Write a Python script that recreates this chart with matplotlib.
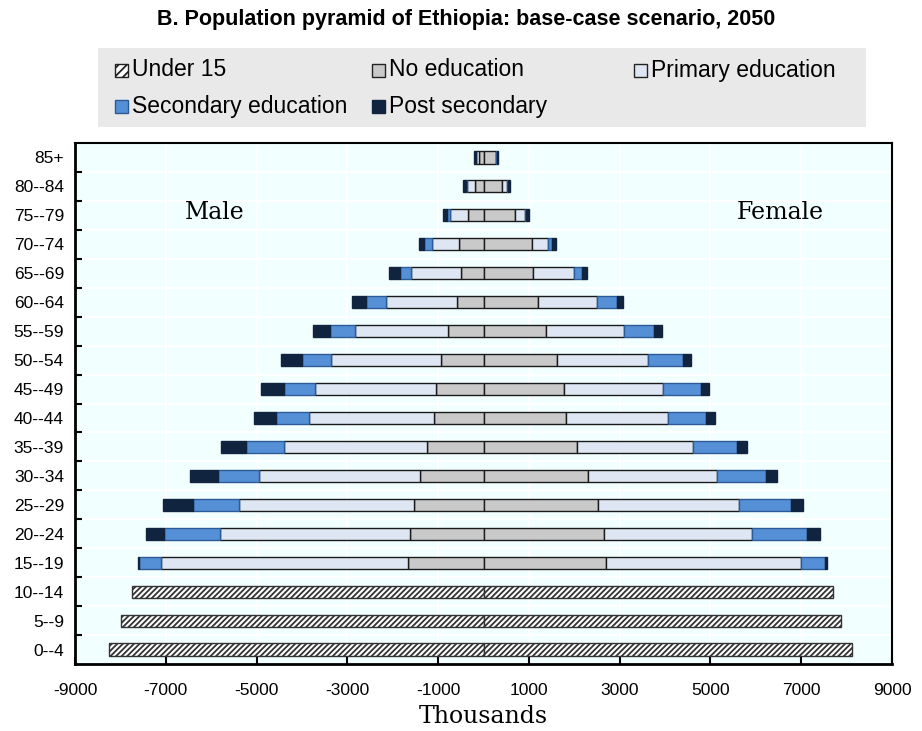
import numpy as np
import matplotlib
matplotlib.use("Agg")
import matplotlib.pyplot as plt
from matplotlib.patches import Rectangle

# age groups, bottom to top
ages = ['0--4', '5--9', '10--14', '15--19', '20--24', '25--29', '30--34', '35--39',
        '40--44', '45--49', '50--54', '55--59', '60--64', '65--69', '70--74',
        '75--79', '80--84', '85+']

# under 15 (thousands)
male_under15 = [8240, 7980, 7740]
female_under15 = [8120, 7880, 7700]

# 15-19 .. 85+ (thousands)
male_noedu = [1654, 1617, 1522, 1397, 1236, 1089, 1045, 935, 788, 590, 495, 532, 352, 183, 100]
male_primary = [5441, 4195, 3872, 3542, 3168, 2765, 2662, 2427, 2053, 1562, 1100, 609, 385, 183, 55]
male_secondary = [484, 1217, 1005, 917, 821, 719, 697, 638, 535, 433, 242, 161, 73, 15, 15]
male_post = [37, 403, 660, 616, 550, 491, 491, 455, 381, 315, 242, 110, 75, 60, 30]

female_noedu = [2699, 2655, 2515, 2310, 2068, 1819, 1775, 1613, 1379, 1195, 1100, 1063, 697, 418, 270]
female_primary = [4305, 3263, 3109, 2845, 2552, 2251, 2171, 2017, 1723, 1298, 895, 367, 220, 95, 10]
female_secondary = [528, 1217, 1159, 1078, 968, 843, 836, 755, 660, 440, 183, 73, 20, 20, 10]
female_post = [44, 271, 257, 242, 220, 183, 183, 183, 161, 147, 95, 88, 65, 40, 30]

labels = ['Under 15', 'No education', 'Primary education', 'Secondary education', 'Post secondary']
colors = ['white', '#c9c9c9', '#dde6f2', '#5590d6', '#10243f']
edges = ['#333333', '#1a1a1a', '#1a1a1a', '#2c5a94', '#10243f']

plt.rcParams['font.family'] = ['Liberation Sans', 'DejaVu Sans']
plt.rcParams['hatch.linewidth'] = 1.3

fig = plt.figure(figsize=(9.22, 7.31), dpi=100)
ax = fig.add_axes([75 / 922, 1 - 664 / 731, (892 - 75) / 922, (664 - 143) / 731])
ax.set_facecolor('#f2ffff')

h = 0.42
y_young = np.arange(3)
y_adult = np.arange(3, len(ages))

ax.barh(y_young, -np.array(male_under15), height=h, color=colors[0], edgecolor=edges[0],
        hatch='//////', linewidth=1, zorder=3)
ax.barh(y_young, female_under15, height=h, color=colors[0], edgecolor=edges[0],
        hatch='//////', linewidth=1, zorder=3)

male_parts = [male_noedu, male_primary, male_secondary, male_post]
female_parts = [female_noedu, female_primary, female_secondary, female_post]
left_m = np.zeros(len(y_adult))
left_f = np.zeros(len(y_adult))
for i in range(4):
    m = np.array(male_parts[i])
    f = np.array(female_parts[i])
    ax.barh(y_adult, -m, left=-left_m, height=h, color=colors[i + 1], edgecolor=edges[i + 1],
            linewidth=1, zorder=3)
    ax.barh(y_adult, f, left=left_f, height=h, color=colors[i + 1], edgecolor=edges[i + 1],
            linewidth=1, zorder=3)
    left_m += m
    left_f += f

ax.set_xlim(-9000, 9000)
ax.set_ylim(-0.5, len(ages) - 0.5)
ax.set_xticks(np.arange(-9000, 9001, 2000))
ax.set_xticklabels([str(v) for v in range(-9000, 9001, 2000)], fontsize=12.5)
ax.set_yticks(np.arange(len(ages)))
ax.set_yticklabels(ages, fontsize=12.5)
ax.set_yticks(np.arange(0.5, len(ages) - 0.5), minor=True)
ax.tick_params(axis='y', which='major', length=0, pad=8)
ax.tick_params(axis='y', which='minor', length=5, width=1.5, direction='in', color='black')
ax.tick_params(axis='x', which='major', length=5, width=1.5, direction='in', pad=14)
ax.grid(axis='x', which='major', color='white', linewidth=1.5, zorder=0)
ax.grid(axis='y', which='minor', color='white', linewidth=1.5, zorder=0)
for side in ['left', 'bottom']:
    ax.spines[side].set_linewidth(2)
for side in ['top', 'right']:
    ax.spines[side].set_linewidth(1.5)

ax.set_xlabel('Thousands', family='DejaVu Serif', fontsize=17, labelpad=5)
ax.text(-5920, 15.1, 'Male', family='DejaVu Serif', fontsize=17, ha='center', va='center')
ax.text(6540, 15.1, 'Female', family='DejaVu Serif', fontsize=17, ha='center', va='center')

fig.text(466 / 922, 1 - 20 / 731, 'B. Population pyramid of Ethiopia: base-case scenario, 2050',
         ha='center', va='center', fontsize=15.5, fontweight='bold')

# legend box
W, H = 922, 731
fig.add_artist(Rectangle((98 / W, 1 - 127 / H), (866 - 98) / W, (127 - 48) / H,
                         transform=fig.transFigure, facecolor='#e9e9e9', edgecolor='none'))
leg_pos = [(115, 70), (372, 70), (634, 70), (115, 106), (372, 106)]
for i, (lx, ly) in enumerate(leg_pos):
    s = 13
    fig.add_artist(Rectangle((lx / W, 1 - (ly + s / 2) / H), s / W, s / H,
                             transform=fig.transFigure, facecolor=colors[i],
                             edgecolor='#222222' if i < 3 else edges[i], linewidth=1,
                             hatch='////' if i == 0 else None))
    fig.text((lx + s + 4) / W, 1 - ly / H, labels[i], ha='left', va='center', fontsize=16.5)

fig.savefig('out.png', dpi=100)
